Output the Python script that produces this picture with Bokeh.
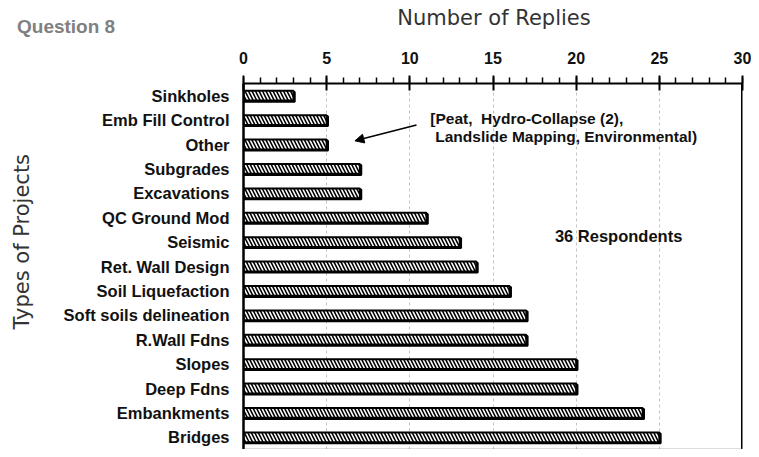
from bokeh.plotting import figure
from bokeh.embed import file_html
from bokeh.resources import INLINE
from bokeh.layouts import column
from bokeh.models import (Range1d, FactorRange, SingleIntervalTicker, Label, Title, Div,
                          Arrow, NormalHead, Span, ColumnDataSource)
from bokeh.transform import dodge

categories = ["Sinkholes", "Emb Fill Control", "Other", "Subgrades", "Excavations",
              "QC Ground Mod", "Seismic", "Ret. Wall Design", "Soil Liquefaction",
              "Soft soils delineation", "R.Wall Fdns", "Slopes", "Deep Fdns",
              "Embankments", "Bridges"]
replies = [3, 5, 5, 7, 7, 11, 13, 14, 16, 17, 17, 20, 20, 24, 25]
x_ticks = [0, 5, 10, 15, 20, 25, 30]

title_text = "Question 8"
x_title = "Number of Replies"
y_title = "Types of Projects"
note_line1 = "[Peat,\u00a0 Hydro-Collapse (2),"
note_line2 = "Landslide Mapping, Environmental)"
respondents = "36 Respondents"

source = ColumnDataSource(dict(cat=categories, val=replies,
                               shadow=[v + 0.08 for v in replies]))

TOP_H = 40
header = Div(
    text=(
        '<div style="position:relative;width:751px;height:%dpx;overflow:visible;">'
        '<span style="position:absolute;left:17px;top:13px;white-space:nowrap;'
        'font-family:\'Liberation Sans\';font-weight:bold;font-size:19px;color:#808080;">%s</span>'
        '<span style="position:absolute;left:374px;top:3px;width:240px;text-align:center;'
        'white-space:nowrap;font-family:\'DejaVu Sans\';font-size:21px;color:#333333;">%s</span>'
        '</div>' % (TOP_H, title_text, x_title)
    ),
    width=751, height=TOP_H, margin=0,
)

p = figure(width=751, height=449 - TOP_H, output_backend="svg", toolbar_location=None,
           x_range=Range1d(x_ticks[0], x_ticks[-1]),
           y_range=FactorRange(factors=list(reversed(categories))),
           x_axis_location="above",
           min_border_left=243, min_border_right=9,
           min_border_top=83 - TOP_H, min_border_bottom=0, margin=0)
p.outline_line_color = None
p.background_fill_color = "white"
p.border_fill_color = "white"

# shadow bars
p.hbar(y=dodge("cat", -0.045, range=p.y_range), left=0, right="shadow", height=0.40,
       source=source, fill_color="black", line_color="black", line_width=2)
# main hatched bars
p.hbar(y="cat", left=0, right="val", height=0.40, source=source,
       fill_color="white", line_color="black", line_width=2,
       hatch_pattern="\\", hatch_color="black", hatch_scale=7, hatch_weight=1.6)

# axes
xa = p.xaxis[0]
xa.ticker = SingleIntervalTicker(interval=5, num_minor_ticks=5)
xa.axis_line_width = 2
xa.axis_line_color = "black"
xa.major_tick_in = 7
xa.major_tick_out = 8
xa.major_tick_line_width = 2
xa.major_tick_line_color = "black"
xa.minor_tick_in = 0
xa.minor_tick_out = 6
xa.minor_tick_line_width = 1.5
xa.minor_tick_line_color = "black"
xa.major_label_standoff = 12
xa.major_label_text_font = "Liberation Sans"
xa.major_label_text_font_style = "bold"
xa.major_label_text_font_size = "16px"
xa.major_label_text_color = "#111111"

ya = p.yaxis[0]
ya.axis_line_width = 2.5
ya.axis_line_color = "black"
ya.major_tick_in = 0
ya.major_tick_out = 0
ya.minor_tick_in = 0
ya.minor_tick_out = 0
ya.major_label_standoff = 14
ya.major_label_text_font = "Liberation Sans"
ya.major_label_text_font_style = "bold"
ya.major_label_text_font_size = "16.5px"
ya.major_label_text_color = "#111111"
# spacer between tick labels and the vertical title
ya.axis_label = " "
ya.axis_label_text_font_size = "1px"
ya.axis_label_standoff = 18

p.add_layout(Title(text=y_title, align="left", offset=120, standoff=10,
                   text_font="DejaVu Sans", text_font_style="normal",
                   text_font_size="21px", text_color="#333333"), "left")

p.ygrid.grid_line_color = None
p.xgrid.ticker = SingleIntervalTicker(interval=5)
p.xgrid.grid_line_color = "#c4c4c4"
p.xgrid.grid_line_dash = "3 3"
p.xgrid.grid_line_width = 1

# frame right and bottom borders
p.add_layout(Span(location=x_ticks[-1], dimension="height", line_color="black", line_width=3))
p.add_layout(Span(location=0, dimension="width", line_color="#777777", line_width=1.5))

# annotations
for tx, ty, tt in [(11.23, 13.58, note_line1), (11.53, 12.81, note_line2), (18.72, 8.77, respondents)]:
    p.add_layout(Label(x=tx, y=ty, text=tt, text_align="left", text_baseline="middle",
                       text_font="Liberation Sans", text_font_style="bold",
                       text_font_size="15.5px" if tt != respondents else "16.5px",
                       text_color="#111111"))

p.add_layout(Arrow(end=NormalHead(size=9, fill_color="black", line_color="black"),
                   x_start=10.4, y_start=13.30, x_end=6.7, y_end=12.65,
                   line_color="black", line_width=1.5))

layout = column(header, p, spacing=0, margin=0)
open("out.html", "w").write(file_html(layout, INLINE))
